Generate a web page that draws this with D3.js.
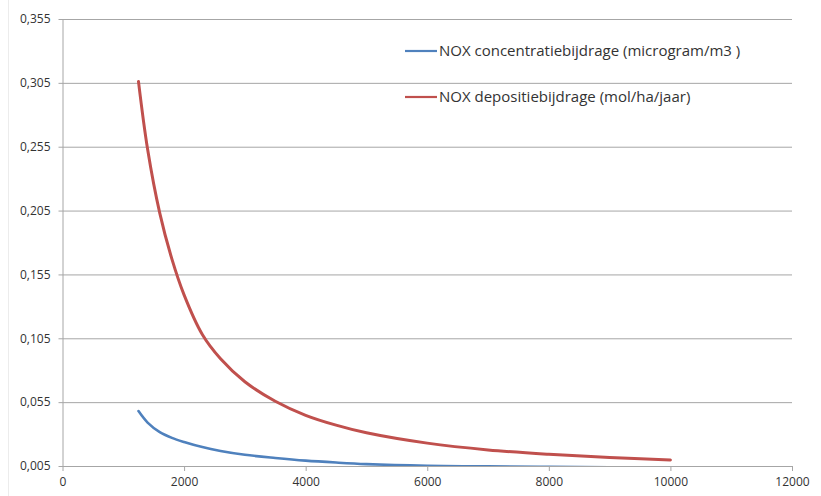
<!DOCTYPE html>
<html>
<head>
<meta charset="utf-8">
<script src="https://cdn.jsdelivr.net/npm/d3@7"></script>
<style>
  body { margin: 0; background: #fff; }
  text { font-family: "Open Sans", sans-serif; fill: #333; }
</style>
</head>
<body>
<script>
// afstand (x) en bijdragen per reeks
var distance = [1250, 1400, 1600, 1800, 2000, 2300, 2600, 3000, 3500, 4000, 4500, 5000, 6000, 7000, 8000, 9000, 10000];
var deposition = [0.306, 0.253, 0.203, 0.167, 0.139, 0.108, 0.089, 0.071, 0.0557, 0.0447, 0.037, 0.031, 0.0229, 0.0176, 0.0142, 0.0117, 0.0097];
var concentration = [0.048, 0.039, 0.0315, 0.027, 0.0238, 0.0198, 0.0168, 0.0138, 0.0113, 0.0092, 0.0077, 0.0065, 0.0052, 0.0047, 0.0043, 0.004, 0.0038];
var seriesNames = ["NOX concentratiebijdrage (microgram/m3 )", "NOX depositiebijdrage (mol/ha/jaar)"];
var yTicks = [0.005, 0.055, 0.105, 0.155, 0.205, 0.255, 0.305, 0.355];
var xTicks = [0, 2000, 4000, 6000, 8000, 10000, 12000];

var W = 821, H = 496;
var margin = {top: 19, right: 29, bottom: 30, left: 62.5};
var width = W - margin.left - margin.right,
    height = H - margin.top - margin.bottom;

var nl = d3.formatLocale({decimal: ",", thousands: ".", grouping: [3], currency: ["", ""]});
var fmtY = nl.format(".3f");

var svg = d3.select("body").append("svg")
    .attr("width", W).attr("height", H);

// vage rand links van het grafiekgebied
svg.append("line").attr("x1", 8.5).attr("x2", 8.5).attr("y1", 0).attr("y2", H)
    .attr("stroke", "#ececec");

var g = svg.append("g").attr("transform", `translate(${margin.left},${margin.top})`);

var x = d3.scaleLinear().domain([0, 12000]).range([0, width]);
var y = d3.scaleLinear().domain([0.005, 0.355]).range([height, 0]);

// y-as met rasterlijnen
g.append("g")
    .call(d3.axisLeft(y).tickValues(yTicks).tickFormat(d => fmtY(d)).tickSizeOuter(0))
    .call(g => g.select(".domain").attr("stroke", "#a6a6a6"))
    .call(g => g.selectAll(".tick line").attr("x1", -4).attr("x2", width).attr("stroke", "#a6a6a6"))
    .call(g => g.selectAll(".tick text").attr("x", -12).attr("font-size", 12).attr("fill", "#333")
        .style("font-family", "'Open Sans', sans-serif"));

// x-as
g.append("g")
    .attr("transform", `translate(0,${height})`)
    .call(d3.axisBottom(x).tickValues(xTicks).tickFormat(d3.format("d")).tickSize(5).tickSizeOuter(0))
    .call(g => g.select(".domain").attr("stroke", "#a6a6a6"))
    .call(g => g.selectAll(".tick line").attr("stroke", "#a6a6a6"))
    .call(g => g.selectAll(".tick text").attr("y", 11).attr("font-size", 12).attr("fill", "#333")
        .style("font-family", "'Open Sans', sans-serif"));

svg.append("clipPath").attr("id", "plot")
  .append("rect").attr("x", 0).attr("y", -5).attr("width", width).attr("height", height + 5);

var line = d3.line()
    .x(d => x(d[0]))
    .y(d => y(d[1]))
    .curve(d3.curveCatmullRom.alpha(0.5));

var series = [
  {name: seriesNames[0], color: "#4f81bd", values: concentration, w: 2.6},
  {name: seriesNames[1], color: "#c0504d", values: deposition, w: 3}
];

var plot = g.append("g").attr("clip-path", "url(#plot)");
series.forEach(s => {
  plot.append("path")
      .datum(d3.zip(distance, s.values))
      .attr("fill", "none")
      .attr("stroke", s.color)
      .attr("stroke-width", s.w)
      .attr("stroke-linejoin", "round")
      .attr("stroke-linecap", "round")
      .attr("d", line);
});

// legenda
var legend = svg.append("g").attr("transform", "translate(405,51)");
series.forEach((s, i) => {
  var row = legend.append("g").attr("transform", `translate(0,${i * 46})`);
  row.append("line").attr("x1", 0).attr("x2", 32).attr("stroke", s.color).attr("stroke-width", 2.2);
  row.append("text").attr("x", 34).attr("dy", "0.35em").attr("font-size", 15).text(s.name);
});
</script>
</body>
</html>
